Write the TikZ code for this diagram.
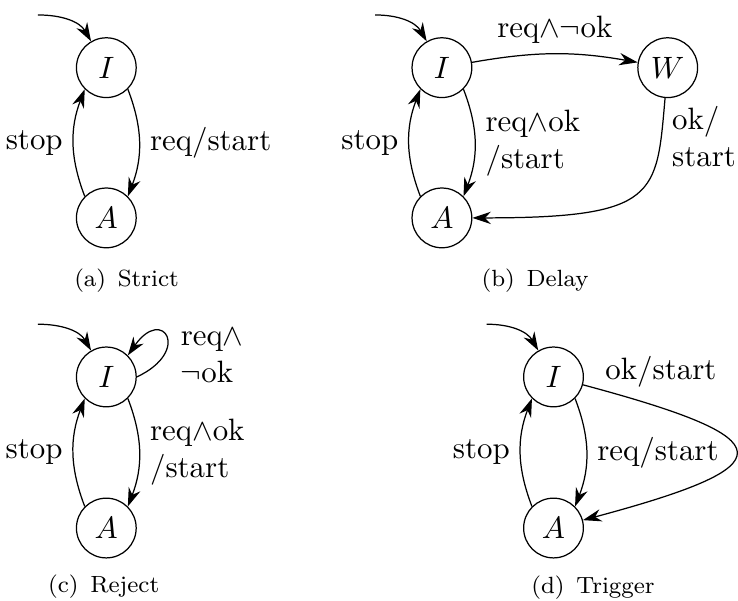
\documentclass[tikz,border=0pt]{standalone}
\usetikzlibrary{arrows.meta}
\begin{document}
\begin{tikzpicture}[>={Stealth[length=6pt, width=4pt]},
    state/.style={draw, circle, minimum size=0.68cm, inner sep=0pt},
    trans/.style={bend left=21},
    caption/.style={font=\fontsize{7.6}{9}\selectfont}]
    \useasboundingbox (0,0) rectangle (8.40,-6.83);

    % (a) Strict
    \node [state] (aI) at (1.21,-0.77) {$I$};
    \node [state] (aA) at (1.21,-2.48) {$A$};
    \coordinate   (a0) at (0.43,-0.17);
    \node [caption] (acap) at (1.44,-3.19) {(a)\enspace Strict};

    \draw [->] (a0) to [out=0, in=120] (aI);
    \draw [->] (aI.-45) to [trans] node [right] {req/start} (aA.45);
    \draw [->] (aA.135) to [trans] node [left] {stop} (aI.-135);

    % (b) Delay
    \node [state] (bI) at (5.03,-0.77) {$I$};
    \node [state] (bA) at (5.03,-2.48) {$A$};
    \node [state] (bW) at (7.60,-0.77) {$W$};
    \coordinate   (b0) at (4.27,-0.17);
    \node [caption] (bcap) at (6.09,-3.19) {(b)\enspace Delay};

    \draw [->] (b0) to [out=0, in=120] (bI);
    \draw [->] (bI) to [bend left=10] node [above] {req$\land\neg$ok} (bW);
    \draw [->] (bI.-45) to [trans] node [right, align=left] {req$\land$ok\\/start} (bA.45);
    \draw [->] (bA.135) to [trans] node [left] {stop} (bI.-135);
    \draw [->] (bW) to [out=-95, in=0, out looseness=1.1, in looseness=2.1]
        node [pos=0.15, right, align=left] {ok/\\start} (bA);

    % (c) Reject
    \node [state] (cI) at (1.21,-4.29) {$I$};
    \node [state] (cA) at (1.21,-6.01) {$A$};
    \coordinate   (c0) at (0.43,-3.69);
    \node [caption] (ccap) at (1.18,-6.68) {(c)\enspace Reject};

    \draw [->] (c0) to [out=0, in=120] (cI);
    \draw [->] (cI.0) to [out=25, in=55, looseness=6.7]
        node [pos=0.25, right=2pt, align=left] {req$\land$\\$\neg$ok} (cI.45);
    \draw [->] (cI.-45) to [trans] node [right, align=left] {req$\land$ok\\/start} (cA.45);
    \draw [->] (cA.135) to [trans] node [left] {stop} (cI.-135);

    % (d) Trigger
    \node [state] (dI) at (6.30,-4.29) {$I$};
    \node [state] (dA) at (6.30,-6.01) {$A$};
    \coordinate   (d0) at (5.54,-3.69);
    \node [caption] (dcap) at (6.75,-6.69) {(d)\enspace Trigger};

    \draw [->] (d0) to [out=0, in=120] (dI);
    \draw [->] (dI) to [out=-15, in=15, looseness=4] node [pos=0.15, above=3pt] {ok/start} (dA);
    \draw [->] (dI.-45) to [trans] node [right] {req/start} (dA.45);
    \draw [->] (dA.135) to [trans] node [left] {stop} (dI.-135);
\end{tikzpicture}
\end{document}
